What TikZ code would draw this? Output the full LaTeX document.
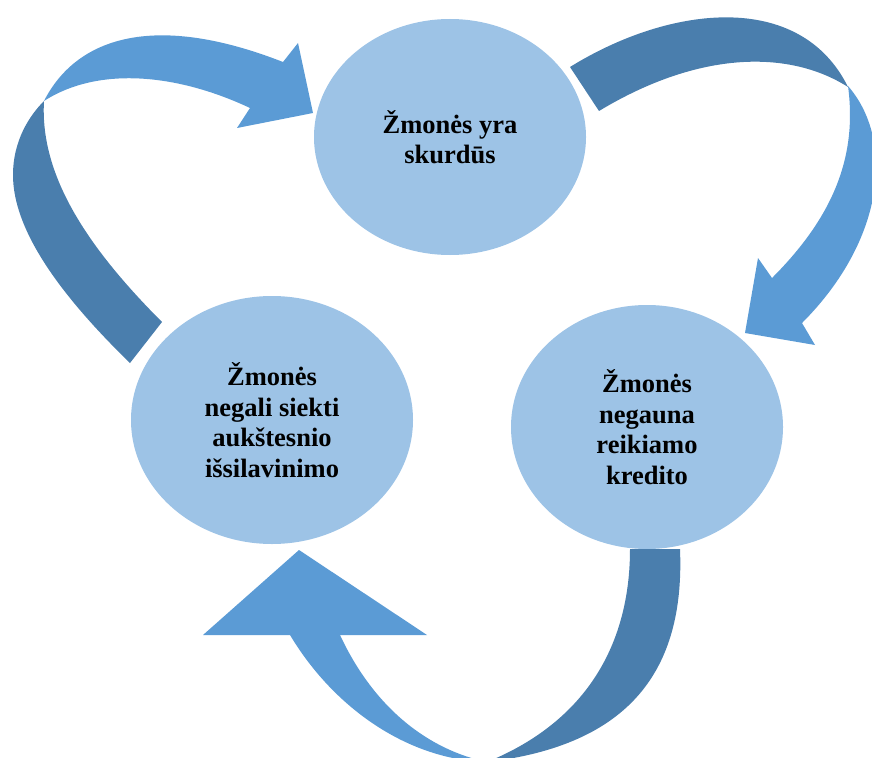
\documentclass[tikz,border=0pt]{standalone}
\usepackage{fontspec}
\setmainfont{Liberation Serif}
\usetikzlibrary{shapes.geometric}
\definecolor{circfill}{HTML}{9DC3E6}
\definecolor{arrdark}{HTML}{4A7EAD}
\definecolor{arrlight}{HTML}{5B9BD5}
\begin{document}
\begin{tikzpicture}[x=1pt,y=-1pt,
  circ/.style={ellipse, fill=circfill, inner sep=0pt, align=center,
    font=\fontsize{26.5}{30.5}\selectfont\bfseries},
  darkband/.style={fill=arrdark},
  lightband/.style={fill=arrlight}]
\useasboundingbox (0,0) rectangle (872,757);
\clip (0,0) rectangle (872,757);

% ellipses
\node[circ, minimum width=272pt, minimum height=236pt] (poor) at (450,137) {Žmonės yra\\skurdūs};
\node[circ, minimum width=282pt, minimum height=248pt] (edu) at (272,420) {Žmonės\\negali siekti\\aukštesnio\\išsilavinimo};
\node[circ, minimum width=272pt, minimum height=244pt] (credit) at (647,427) {Žmonės\\negauna\\reikiamo\\kredito};

% arrow 1: edu -> poor
\fill[darkband] (130,363) .. controls (60,295) and (13,230) .. (13,175)
  .. controls (13,140) and (30,115) .. (44,101)
  .. controls (40,170) and (80,240) .. (162,322) -- cycle;
\fill[lightband] (44,101) .. controls (75,40) and (150,10) .. (283,62)
  -- (298,43) -- (313,113) -- (237,128) -- (250,108)
  .. controls (180,75) and (100,65) .. (44,101) -- cycle;

% arrow 2: poor -> credit
\fill[darkband] (570,67) .. controls (670,5) and (800,-10) .. (848,87)
  .. controls (790,50) and (700,50) .. (599,111) -- cycle;
\fill[lightband] (848,86) .. controls (895,140) and (885,240) .. (802,323)
  -- (815,345) -- (745,333) -- (758,258) -- (772,278)
  .. controls (830,220) and (858,160) .. (848,86) -- cycle;

% arrow 3: credit -> edu
\fill[darkband] (680,549) .. controls (685,670) and (630,745) .. (487,762)
  .. controls (590,720) and (630,640) .. (630,549) -- cycle;
\fill[lightband] (487,762) .. controls (410,760) and (335,710) .. (290,635)
  -- (203,635) -- (299,550) -- (427,635) -- (340,635)
  .. controls (375,710) and (430,750) .. (487,762) -- cycle;
\end{tikzpicture}
\end{document}
